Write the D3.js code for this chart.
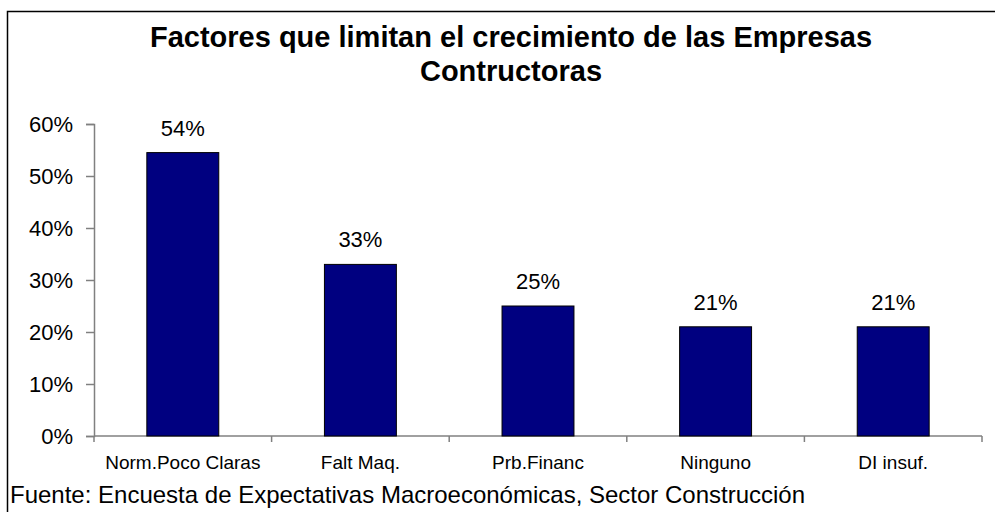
<!DOCTYPE html>
<html>
<head>
<meta charset="utf-8">
<script src="https://cdn.jsdelivr.net/npm/d3@7"></script>
<style>
  html, body { margin: 0; padding: 0; background: #fff; }
  svg { display: block; font-family: "Liberation Sans", Arial, sans-serif; }
</style>
</head>
<body>
<svg id="chart" width="995" height="512"></svg>
<script>
const categories = ["Norm.Poco Claras", "Falt Maq.", "Prb.Financ", "Ninguno", "DI insuf."];
const values = [0.545, 0.33, 0.25, 0.21, 0.21];
const valueLabels = ["54%", "33%", "25%", "21%", "21%"];
const yTicks = [0, 0.1, 0.2, 0.3, 0.4, 0.5, 0.6];
const titleLines = ["Factores que limitan el crecimiento de las Empresas", "Contructoras"];
const footer = "Fuente: Encuesta de Expectativas Macroeconómicas, Sector Construcción";

const svg = d3.select("#chart");

// frame (left and top lines)
svg.append("path")
  .attr("d", "M7.5,512 L7.5,11.5 L995,11.5")
  .attr("fill", "none").attr("stroke", "#000").attr("stroke-width", 1.5);

const x = d3.scaleBand().domain(categories).range([94, 982]).paddingInner(0.595).paddingOuter(0.2975);
const y = d3.scaleLinear().domain([0, 0.6]).range([436, 124]);

// title
svg.append("g").selectAll("text").data(titleLines).join("text")
  .attr("x", 511).attr("y", (d, i) => 47 + i * 34)
  .attr("text-anchor", "middle")
  .attr("font-size", 29).attr("font-weight", "bold").attr("fill", "#000")
  .text(d => d);

// y axis
const yAxis = svg.append("g").attr("transform", "translate(94,0)")
  .call(d3.axisLeft(y).tickValues(yTicks).tickFormat(d3.format(".0%")).tickSize(8).tickPadding(13));
yAxis.select(".domain").attr("stroke", "#808080").attr("stroke-width", 1.5);
yAxis.selectAll(".tick line").attr("stroke", "#808080").attr("stroke-width", 1.5);
yAxis.selectAll(".tick text").attr("font-size", 22).attr("font-family", "Liberation Sans, Arial, sans-serif").attr("fill", "#000");

// x axis line + ticks at band boundaries
const bounds = d3.range(categories.length + 1).map(i => x.range()[0] + i * x.step());
svg.append("line").attr("x1", 94).attr("x2", 982).attr("y1", y(0)).attr("y2", y(0))
  .attr("stroke", "#808080").attr("stroke-width", 1.5);
svg.append("g").selectAll("line").data(bounds).join("line")
  .attr("x1", d => d).attr("x2", d => d).attr("y1", y(0)).attr("y2", y(0) + 6)
  .attr("stroke", "#808080").attr("stroke-width", 1.5);

// bars
svg.append("g").selectAll("rect").data(values).join("rect")
  .attr("x", (d, i) => x(categories[i]))
  .attr("y", d => y(d))
  .attr("width", x.bandwidth())
  .attr("height", d => y(0) - y(d))
  .attr("fill", "#000080").attr("stroke", "#000").attr("stroke-width", 1);

// value labels
svg.append("g").selectAll("text").data(values).join("text")
  .attr("x", (d, i) => x(categories[i]) + x.bandwidth() / 2)
  .attr("y", d => y(d) - 17)
  .attr("text-anchor", "middle").attr("font-size", 22).attr("fill", "#000")
  .text((d, i) => valueLabels[i]);

// category labels
svg.append("g").selectAll("text").data(categories).join("text")
  .attr("x", d => x(d) + x.bandwidth() / 2)
  .attr("y", 469)
  .attr("text-anchor", "middle").attr("font-size", 19).attr("fill", "#000")
  .text(d => d);

// footer
svg.append("text").attr("x", 10).attr("y", 503)
  .attr("font-size", 24).attr("fill", "#000").text(footer);
</script>
</body>
</html>
